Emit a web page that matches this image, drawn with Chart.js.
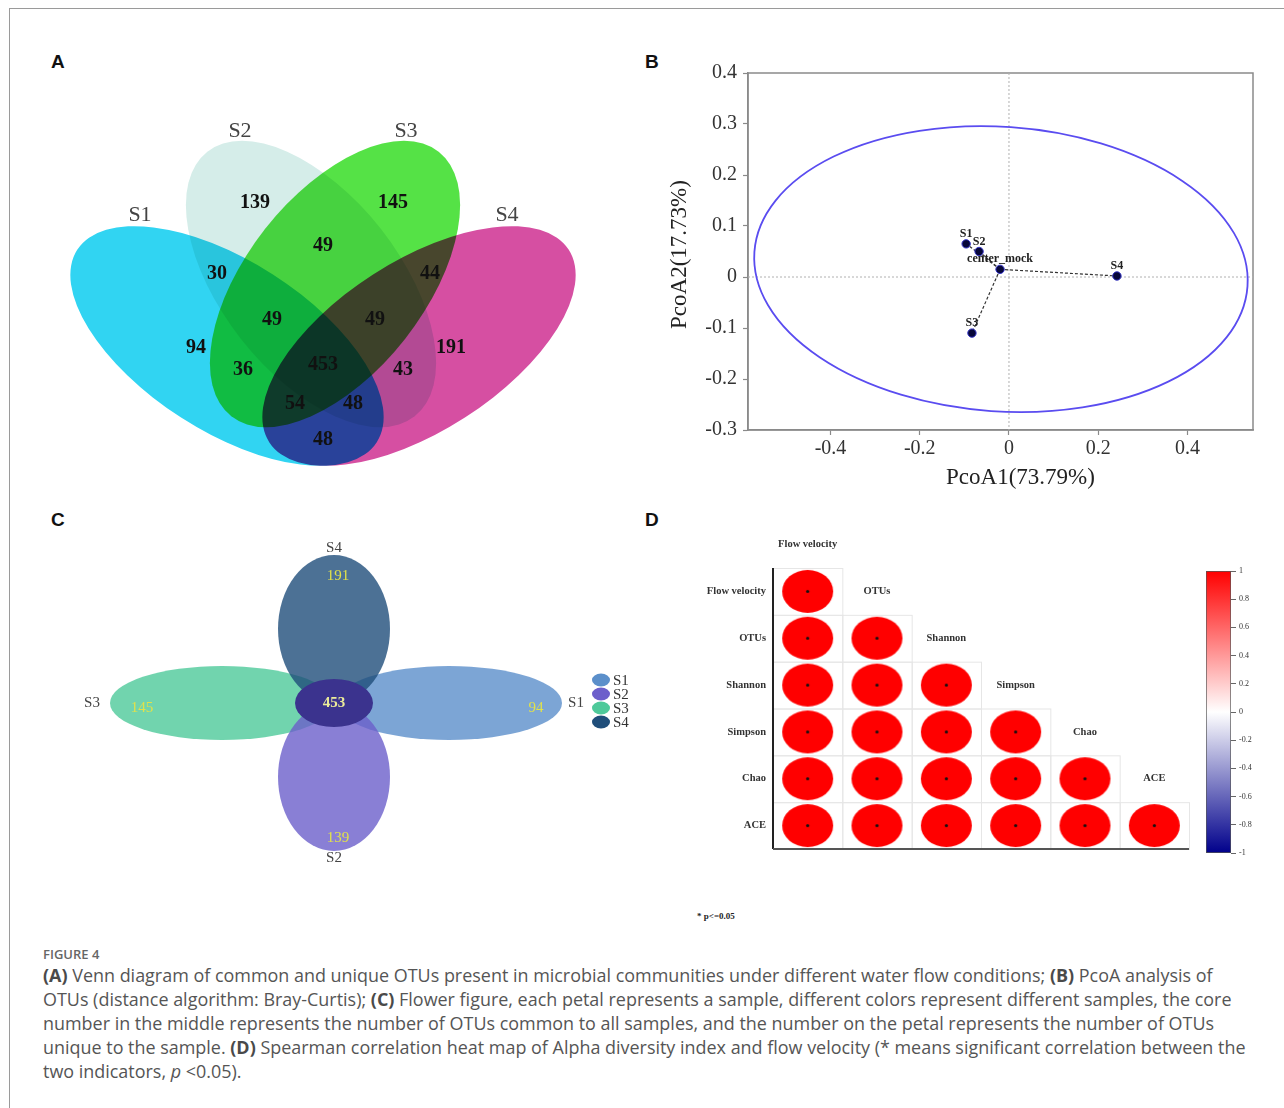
<!DOCTYPE html>
<html>
<head>
<meta charset="utf-8">
<script src="https://cdn.jsdelivr.net/npm/chart.js@4.4.0/dist/chart.umd.min.js"></script>
<style>
  body { margin: 0; background: #fff; }
  #page { position: relative; width: 1284px; height: 1108px; overflow: hidden; background: #fff; }
  #frame { position: absolute; left: 9px; top: 8px; width: 1300px; height: 1120px;
           border-left: 1.5px solid #9a9a9a; border-top: 1.5px solid #9a9a9a; }
  canvas { position: absolute; }
  .plabel { position: absolute; font: bold 19px "Liberation Sans", Arial, sans-serif; line-height: 19px; color: #111; }
  #cap { position: absolute; left: 43px; top: 946px; font-family: "Open Sans", Lato, sans-serif; color: #555; }
  #cap .fig { font-size: 13px; line-height: 17px; font-weight: 600; color: #666; margin-bottom: 0; }
  #cap .ln { font-size: 17.4px; line-height: 24px; white-space: nowrap; }
  #cap .ln span { display: inline-block; }
  #cap b { font-weight: 700; color: #4a4a4a; }
  #pnote { position: absolute; left: 697px; top: 911px; font: bold 9px "Liberation Serif", serif; color: #222; }
</style>
</head>
<body>
<div id="page">
  <div id="frame"></div>
  <div class="plabel" style="left:51px;top:52px">A</div>
  <div class="plabel" style="left:645px;top:52px">B</div>
  <div class="plabel" style="left:51px;top:510px">C</div>
  <div class="plabel" style="left:645px;top:510px">D</div>

  <canvas id="venn" width="590" height="380" style="left:30px;top:110px"></canvas>
  <canvas id="pcoa" width="630" height="445" style="left:650px;top:55px"></canvas>
  <canvas id="flower" width="600" height="340" style="left:60px;top:530px"></canvas>
  <canvas id="corr" width="520" height="340" style="left:690px;top:530px"></canvas>
  <canvas id="cbar" width="90" height="305" style="left:1190px;top:560px"></canvas>
  <div id="pnote">* p&lt;=0.05</div>

  <div id="cap">
    <div class="fig">FIGURE 4</div>
    <div class="ln"><span id="cap1"><b>(A)</b> Venn diagram of common and unique OTUs present in microbial communities under different water flow conditions; <b>(B)</b> PcoA analysis of</span></div>
    <div class="ln">OTUs (distance algorithm: Bray-Curtis); <b>(C)</b> Flower figure, each petal represents a sample, different colors represent different samples, the core</div>
    <div class="ln">number in the middle represents the number of OTUs common to all samples, and the number on the petal represents the number of OTUs</div>
    <div class="ln">unique to the sample. <b>(D)</b> Spearman correlation heat map of Alpha diversity index and flow velocity (* means significant correlation between the</div>
    <div class="ln">two indicators, <i>p</i> &lt;0.05).</div>
  </div>
</div>

<script>
const SERIF = '"Liberation Serif", "Times New Roman", serif';

// ---------- data ----------
// A: Venn
const vennSetNames = ["S1", "S2", "S3", "S4"];
const vennRegions = ["S1", "S2", "S3", "S4", "S1&S2", "S2&S3", "S1&S3", "S3&S4", "S2&S4", "S1&S4",
                     "S1&S2&S3", "S2&S3&S4", "S1&S3&S4", "S1&S2&S4", "S1&S2&S3&S4"];
const vennCounts = [94, 139, 145, 191, 30, 49, 36, 44, 43, 48, 49, 49, 54, 48, 453];

// B: PCoA
const pcoaNames = ["S1", "S2", "center_mock", "S3", "S4"];
const pcoaX = [-0.096, -0.067, -0.020, -0.083, 0.242];
const pcoaY = [0.065, 0.050, 0.015, -0.110, 0.002];
const pcoaXTicks = [-0.4, -0.2, 0, 0.2, 0.4];
const pcoaYTicks = [-0.3, -0.2, -0.1, 0, 0.1, 0.2, 0.3, 0.4];
const pcoaEllipse = { cx: -0.018, cy: 0.0155, rx: 0.554, ry: 0.279 };

// C: flower
const flowerSamples = ["S1", "S2", "S3", "S4"];
const flowerUnique = [94, 139, 145, 191];
const flowerCore = 453;

// D: correlation (lower triangle, Spearman r) and significance
const corrVars = ["Flow velocity", "OTUs", "Shannon", "Simpson", "Chao", "ACE"];
const corrR = [
  [1],
  [1, 1],
  [1, 1, 1],
  [1, 1, 1, 1],
  [1, 1, 1, 1, 1],
  [1, 1, 1, 1, 1, 1]
];
const corrSig = corrR.map(row => row.map(() => true));
const cbarTicks = [-1, -0.8, -0.6, -0.4, -0.2, 0, 0.2, 0.4, 0.6, 0.8, 1];

// ---------- layout / style ----------
// Venn layout, units with origin at the diagram centre, y up
const vennColors = ['#31d4f2', '#d5ede9', '#55e246', '#d64fa2'];
const vennShapes = [
  { cx: -96, cy: 0, a: 178, b: 85, tilt: -32.7 },
  { cx: -12, cy: 62, a: 168, b: 89, tilt: -51.9 },
  { cx: 12, cy: 62, a: 168, b: 89, tilt: 51.9 },
  { cx: 96, cy: 0, a: 178, b: 85, tilt: 32.7 }
];
const vennCountPos = [[-127, -2], [-68, 143], [70, 143], [128, -2], [-106, 72], [0, 100], [-80, -24],
  [107, 72], [80, -24], [0, -94], [-51, 26], [52, 26], [-28, -58], [30, -58], [0, -19]];
const vennNamePos = [[-183, 131], [-83, 215], [83, 215], [184, 131]];

// flower layout, same kind of units
const flowerColors = [[91, 143, 202], [108, 95, 203], [78, 201, 154], [31, 78, 122]];
const flowerPetals = [
  { cx: 115, cy: 0, rx: 113, ry: 37 },
  { cx: 0, cy: -74, rx: 56, ry: 74 },
  { cx: -112, cy: 0, rx: 112, ry: 37 },
  { cx: 0, cy: 74, rx: 56, ry: 74 }
];
const flowerCountPos = [[202, -5], [4, -135], [-192, -5], [4, 127]];
const flowerNamePos = [[242, 0], [0, -155], [-242, 0], [0, 155]];
const flowerLegendPos = [[267, 23], [267, 9], [267, -5], [267, -19]];

const hiddenAxes = (xmin, xmax, ymin, ymax) => ({
  x: { type: 'linear', display: false, min: xmin, max: xmax },
  y: { type: 'linear', display: false, min: ymin, max: ymax }
});
const baseOpts = {
  responsive: false,
  animation: false,
  events: [],
  plugins: { legend: { display: false }, tooltip: { enabled: false } }
};

// caption: fit the first line to the width it has in the figure
function fitCaption() {
  const cap1 = document.getElementById('cap1');
  const size = parseFloat(getComputedStyle(cap1).fontSize);
  const scale = 1170 / cap1.getBoundingClientRect().width;
  document.querySelectorAll('#cap .ln').forEach(el => { el.style.fontSize = (size * scale).toFixed(2) + 'px'; });
}
fitCaption();
document.fonts.ready.then(fitCaption);

// ---------- A: Venn ----------
new Chart(document.getElementById('venn'), {
  type: 'scatter',
  data: {
    datasets: [
      { data: vennCountPos.map(([x, y]) => ({ x, y })), pointRadius: 0 },
      { data: vennNamePos.map(([x, y]) => ({ x, y })), pointRadius: 0 }
    ]
  },
  options: { ...baseOpts, layout: { padding: 0 }, scales: hiddenAxes(-293, 297, -144, 236) },
  plugins: [{
    id: 'vennShapes',
    beforeDatasetsDraw(chart) {
      const { ctx, scales: { x, y } } = chart;
      const k = x.getPixelForValue(1) - x.getPixelForValue(0);
      ctx.save();
      ctx.globalCompositeOperation = 'multiply';
      vennShapes.forEach((e, i) => {
        ctx.beginPath();
        ctx.ellipse(x.getPixelForValue(e.cx), y.getPixelForValue(e.cy), e.a * k, e.b * k,
          -e.tilt * Math.PI / 180, 0, Math.PI * 2);
        ctx.fillStyle = vennColors[i];
        ctx.fill();
      });
      ctx.restore();
    },
    afterDatasetsDraw(chart) {
      const ctx = chart.ctx;
      ctx.save();
      ctx.textAlign = 'center';
      ctx.textBaseline = 'middle';
      ctx.fillStyle = '#111';
      ctx.font = 'bold 20px ' + SERIF;
      chart.getDatasetMeta(0).data.forEach((pt, i) => ctx.fillText(vennCounts[i], pt.x, pt.y));
      ctx.fillStyle = '#444';
      ctx.font = '22px ' + SERIF;
      chart.getDatasetMeta(1).data.forEach((pt, i) => ctx.fillText(vennSetNames[i], pt.x, pt.y));
      ctx.restore();
    }
  }]
});

// ---------- B: PCoA ----------
const pcoaPts = pcoaNames.map((n, i) => ({ x: pcoaX[i], y: pcoaY[i] }));
const centerIdx = pcoaNames.indexOf('center_mock');
const tickFmt = v => String(Math.round(v * 10) / 10);
const pcoaAxis = (ticks) => ({
  type: 'linear',
  afterBuildTicks: s => { s.ticks = ticks.map(v => ({ value: v })); },
  ticks: { font: { family: SERIF, size: 20 }, color: '#333', callback: tickFmt },
  grid: { display: true, drawOnChartArea: false, tickLength: 5, tickColor: '#8a8a8a', tickWidth: 1.2 },
  border: { color: '#8a8a8a', width: 1.5 }
});

new Chart(document.getElementById('pcoa'), {
  type: 'scatter',
  data: {
    datasets: [
      { data: pcoaPts, pointRadius: 4.2, backgroundColor: '#07073a', borderColor: '#3434c8', borderWidth: 1 },
      ...pcoaPts.filter((p, i) => i !== centerIdx).map(p => ({
        type: 'line', data: [pcoaPts[centerIdx], p], showLine: true, pointRadius: 0,
        borderColor: '#333', borderWidth: 1.2, borderDash: [3, 2], fill: false
      }))
    ]
  },
  options: {
    ...baseOpts,
    layout: { padding: { left: 12, top: 18, right: 27, bottom: 4 } },
    scales: {
      x: { ...pcoaAxis(pcoaXTicks), min: -0.585, max: 0.547,
           ticks: { ...pcoaAxis(pcoaXTicks).ticks, padding: 2 },
           afterFit: s => { s.height = 66; } },
      y: { ...pcoaAxis(pcoaYTicks), min: -0.3, max: 0.4,
           ticks: { ...pcoaAxis(pcoaYTicks).ticks, padding: 6 },
           afterFit: s => { s.width = 86; } }
    }
  },
  plugins: [{
    id: 'pcoaDecor',
    beforeDatasetsDraw(chart) {
      const { ctx, chartArea: a, scales: { x, y } } = chart;
      ctx.save();
      // outer box
      ctx.strokeStyle = '#8a8a8a';
      ctx.lineWidth = 1.5;
      ctx.strokeRect(a.left, a.top, a.right - a.left, a.bottom - a.top);
      // zero lines
      ctx.strokeStyle = '#b0b0b0';
      ctx.lineWidth = 1;
      ctx.setLineDash([2, 2]);
      ctx.beginPath();
      ctx.moveTo(x.getPixelForValue(0), a.top); ctx.lineTo(x.getPixelForValue(0), a.bottom);
      ctx.moveTo(a.left, y.getPixelForValue(0)); ctx.lineTo(a.right, y.getPixelForValue(0));
      ctx.stroke();
      ctx.setLineDash([]);
      // confidence ellipse
      const px = x.getPixelForValue(pcoaEllipse.cx), py = y.getPixelForValue(pcoaEllipse.cy);
      const rx = x.getPixelForValue(pcoaEllipse.cx + pcoaEllipse.rx) - px;
      const ry = py - y.getPixelForValue(pcoaEllipse.cy + pcoaEllipse.ry);
      ctx.strokeStyle = '#5a4cf0';
      ctx.lineWidth = 1.8;
      ctx.beginPath();
      ctx.ellipse(px, py, rx, ry, 4 * Math.PI / 180, 0, Math.PI * 2);
      ctx.stroke();
      ctx.restore();
    },
    afterDraw(chart) {
      const { ctx, chartArea: a } = chart;
      ctx.save();
      ctx.textAlign = 'center';
      ctx.textBaseline = 'bottom';
      ctx.fillStyle = '#222';
      ctx.font = 'bold 12px ' + SERIF;
      chart.getDatasetMeta(0).data.forEach((pt, i) => ctx.fillText(pcoaNames[i], pt.x, pt.y - 4));
      // axis titles
      ctx.fillStyle = '#222';
      ctx.font = '23px ' + SERIF;
      ctx.textBaseline = 'middle';
      ctx.fillText('PcoA1(73.79%)', (a.left + a.right) / 2 + 20, a.bottom + 48);
      ctx.translate(a.left - 68, (a.top + a.bottom) / 2 + 3);
      ctx.rotate(-Math.PI / 2);
      ctx.fillText('PcoA2(17.73%)', 0, 0);
      ctx.restore();
    }
  }]
});

// ---------- C: flower ----------
const rgba = (c, al) => `rgba(${c[0]},${c[1]},${c[2]},${al})`;
new Chart(document.getElementById('flower'), {
  type: 'scatter',
  data: {
    datasets: [
      { data: flowerCountPos.map(([x, y]) => ({ x, y })), pointRadius: 0 },
      { data: flowerNamePos.map(([x, y]) => ({ x, y })), pointRadius: 0 },
      { data: flowerLegendPos.map(([x, y]) => ({ x, y })), pointRadius: 0 }
    ]
  },
  options: { ...baseOpts, layout: { padding: 0 }, scales: hiddenAxes(-274, 326, -167, 173) },
  plugins: [{
    id: 'flowerShapes',
    beforeDatasetsDraw(chart) {
      const { ctx, scales: { x, y } } = chart;
      const k = x.getPixelForValue(1) - x.getPixelForValue(0);
      ctx.save();
      [0, 2, 1, 3].forEach(i => {
        const p = flowerPetals[i];
        ctx.beginPath();
        ctx.ellipse(x.getPixelForValue(p.cx), y.getPixelForValue(p.cy), p.rx * k, p.ry * k, 0, 0, Math.PI * 2);
        ctx.fillStyle = rgba(flowerColors[i], 0.8);
        ctx.fill();
      });
      ctx.beginPath();
      ctx.ellipse(x.getPixelForValue(0), y.getPixelForValue(0), 39 * k, 24 * k, 0, 0, Math.PI * 2);
      ctx.fillStyle = '#3b338e';
      ctx.fill();
      ctx.restore();
    },
    afterDatasetsDraw(chart) {
      const { ctx, scales: { x, y } } = chart;
      ctx.save();
      ctx.textBaseline = 'middle';
      ctx.textAlign = 'center';
      ctx.font = '15px ' + SERIF;
      ctx.fillStyle = '#e2e24a';
      chart.getDatasetMeta(0).data.forEach((pt, i) => ctx.fillText(flowerUnique[i], pt.x, pt.y));
      ctx.font = 'bold 15px ' + SERIF;
      ctx.fillStyle = '#ecec9a';
      ctx.fillText(flowerCore, x.getPixelForValue(0), y.getPixelForValue(0));
      ctx.font = '15px ' + SERIF;
      ctx.fillStyle = '#444';
      chart.getDatasetMeta(1).data.forEach((pt, i) => ctx.fillText(flowerSamples[i], pt.x, pt.y));
      // legend
      ctx.textAlign = 'left';
      chart.getDatasetMeta(2).data.forEach((pt, i) => {
        ctx.beginPath();
        ctx.ellipse(pt.x, pt.y, 9, 6.5, 0, 0, Math.PI * 2);
        ctx.fillStyle = rgba(flowerColors[i], 1);
        ctx.fill();
        ctx.fillStyle = '#333';
        ctx.fillText(flowerSamples[i], pt.x + 12, pt.y + 1);
      });
      ctx.restore();
    }
  }]
});

// ---------- D: correlation plot ----------
function corrColor(r) {
  const t = Math.abs(r);
  const end = r >= 0 ? [255, 0, 0] : [0, 0, 139];
  const c = end.map(v => Math.round(255 + (v - 255) * t));
  return `rgb(${c[0]},${c[1]},${c[2]})`;
}
const glyphCache = {};
function corrGlyph(r, sig) {
  const key = r + '_' + sig;
  if (glyphCache[key]) return glyphCache[key];
  const s = Math.sqrt(Math.abs(r));
  const rx = 25.5 * s, ry = 21.5 * s;
  const cv = document.createElement('canvas');
  cv.width = Math.ceil(rx * 2) + 2;
  cv.height = Math.ceil(ry * 2) + 2;
  const g = cv.getContext('2d');
  g.fillStyle = corrColor(r);
  g.beginPath();
  g.ellipse(cv.width / 2, cv.height / 2, rx, ry, 0, 0, Math.PI * 2);
  g.fill();
  if (sig) {
    g.fillStyle = '#111';
    g.beginPath();
    g.arc(cv.width / 2, cv.height / 2, 1.6, 0, Math.PI * 2);
    g.fill();
  }
  glyphCache[key] = cv;
  return cv;
}
const corrPts = [];
corrR.forEach((row, r) => row.forEach((v, c) => corrPts.push({ x: c, y: r, v, sig: corrSig[r][c] })));

new Chart(document.getElementById('corr'), {
  type: 'scatter',
  data: {
    datasets: [{
      data: corrPts,
      pointStyle: ctx => corrGlyph(ctx.raw.v, ctx.raw.sig),
      pointRadius: 20
    }]
  },
  options: {
    ...baseOpts,
    layout: { padding: { left: 83, top: 38, right: 10, bottom: 14 } },
    scales: {
      x: { type: 'linear', display: false, min: -0.5, max: 5.5 },
      y: { type: 'linear', display: false, min: -0.5, max: 5.5, reverse: true }
    }
  },
  plugins: [{
    id: 'corrDecor',
    beforeDatasetsDraw(chart) {
      const { ctx, scales: { x, y } } = chart;
      ctx.save();
      ctx.strokeStyle = '#e6e6e6';
      ctx.lineWidth = 1;
      corrR.forEach((row, r) => row.forEach((v, c) => {
        const x0 = x.getPixelForValue(c - 0.5), x1 = x.getPixelForValue(c + 0.5);
        const y0 = y.getPixelForValue(r - 0.5), y1 = y.getPixelForValue(r + 0.5);
        ctx.strokeRect(x0 + 0.5, y0 + 0.5, x1 - x0, y1 - y0);
      }));
      ctx.restore();
    },
    afterDraw(chart) {
      const { ctx, scales: { x, y } } = chart;
      const n = corrVars.length;
      ctx.save();
      // axis lines
      ctx.lineWidth = 2;
      ctx.strokeStyle = '#222';
      ctx.beginPath();
      ctx.moveTo(x.getPixelForValue(-0.5), y.getPixelForValue(-0.5));
      ctx.lineTo(x.getPixelForValue(-0.5), y.getPixelForValue(n - 0.5));
      ctx.stroke();
      ctx.strokeStyle = '#555';
      ctx.beginPath();
      ctx.moveTo(x.getPixelForValue(-0.5), y.getPixelForValue(n - 0.5));
      ctx.lineTo(x.getPixelForValue(n - 0.5), y.getPixelForValue(n - 0.5));
      ctx.stroke();
      // labels
      ctx.fillStyle = '#333';
      ctx.font = 'bold 10.5px ' + SERIF;
      ctx.textBaseline = 'middle';
      ctx.textAlign = 'right';
      corrVars.forEach((name, i) => ctx.fillText(name, x.getPixelForValue(-0.5) - 7, y.getPixelForValue(i)));
      ctx.textAlign = 'center';
      corrVars.forEach((name, i) => ctx.fillText(name, x.getPixelForValue(i), y.getPixelForValue(i - 1)));
      ctx.restore();
    }
  }]
});

// colour bar
new Chart(document.getElementById('cbar'), {
  type: 'bar',
  data: {
    labels: ['r'],
    datasets: [{
      data: [[-1, 1]],
      barPercentage: 1,
      categoryPercentage: 1,
      borderColor: '#555',
      borderWidth: 1,
      borderSkipped: false,
      backgroundColor: (context) => {
        const { ctx, chartArea } = context.chart;
        if (!chartArea) return '#ff0000';
        const gradient = ctx.createLinearGradient(0, chartArea.top, 0, chartArea.bottom);
        gradient.addColorStop(0, corrColor(1));
        gradient.addColorStop(0.5, corrColor(0));
        gradient.addColorStop(1, corrColor(-1));
        return gradient;
      }
    }]
  },
  options: {
    ...baseOpts,
    layout: { padding: { left: 16, top: 11, right: 15, bottom: 12 } },
    scales: {
      x: { display: false },
      y: {
        position: 'right', min: -1, max: 1,
        afterBuildTicks: s => { s.ticks = cbarTicks.map(v => ({ value: v })); },
        afterFit: s => { s.width = 34; },
        ticks: { font: { family: SERIF, size: 8 }, color: '#333', padding: 3, callback: tickFmt },
        grid: { display: true, drawOnChartArea: false, tickLength: 5, tickColor: '#666' },
        border: { display: false }
      }
    }
  }
});
</script>
</body>
</html>
